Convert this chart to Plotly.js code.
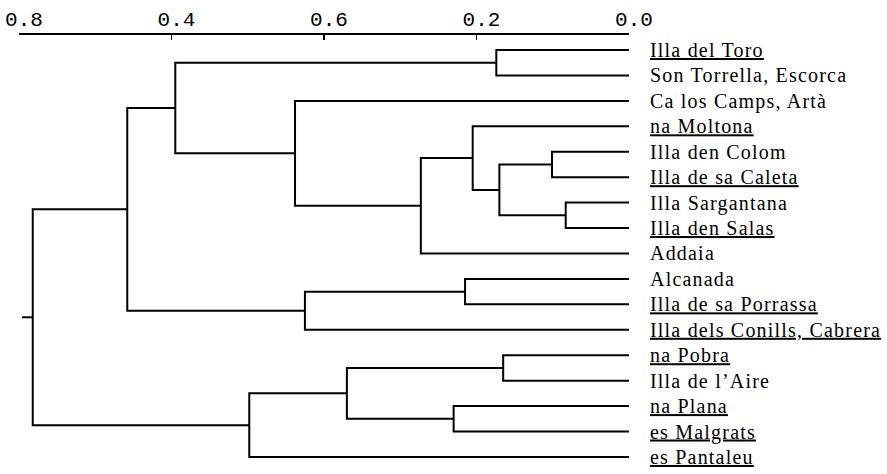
<!DOCTYPE html>
<html>
<head>
<meta charset="utf-8">
<script src="https://cdn.plot.ly/plotly-3.0.1.min.js"></script>
<style>
  html, body { margin: 0; padding: 0; background: #fff; }
  .ytick text { letter-spacing: 1.2px; }
</style>
</head>
<body>
<div id="chart" style="width:887px;height:474px;"></div>
<script>
// Leaves (top to bottom) and whether each name is underlined
const leafNames = [
  "Illa del Toro", "Son Torrella, Escorca", "Ca los Camps, Artà", "na Moltona",
  "Illa den Colom", "Illa de sa Caleta", "Illa Sargantana", "Illa den Salas",
  "Addaia", "Alcanada", "Illa de sa Porrassa", "Illa dels Conills, Cabrera",
  "na Pobra", "Illa de l\u2019Aire", "na Plana", "es Malgrats", "es Pantaleu"
];
const leafUnderlined = [1,0,0,1, 0,1,0,1, 0,0,1,1, 1,0,1,1,1];

// Linkage: ids 0..16 are leaves; each merge creates id 17, 18, ...
const mergeLeft   = [0, 4, 6, 19, 3, 21, 2, 17, 9, 25, 24, 12, 14, 28, 30, 27];
const mergeRight  = [1, 5, 7, 18, 20, 8, 22, 23, 10, 11, 26, 13, 15, 29, 16, 31];
const mergeHeight = [0.174, 0.101, 0.083, 0.170, 0.205, 0.273, 0.438, 0.595,
                     0.215, 0.425, 0.658, 0.165, 0.230, 0.370, 0.498, 0.782];
const rootStubHeight = 0.796;

// Axis ticks (as printed)
const tickVals = [0.8, 0.6, 0.4, 0.2, 0.0];
const tickText = ["0.8", "0.4", "0.6", "0.2", "0.0"];

// Build dendrogram segments
const nodeX = [], nodeY = [];
leafNames.forEach((_, i) => { nodeX.push(0); nodeY.push(i); });
const xs = [], ys = [];
for (let k = 0; k < mergeHeight.length; k++) {
  const a = mergeLeft[k], b = mergeRight[k], h = mergeHeight[k];
  xs.push(nodeX[a], h, h, nodeX[b], null);
  ys.push(nodeY[a], nodeY[a], nodeY[b], nodeY[b], null);
  nodeX.push(h);
  nodeY.push((nodeY[a] + nodeY[b]) / 2);
}
const root = nodeX.length - 1;
xs.push(nodeX[root], rootStubHeight);
ys.push(nodeY[root], nodeY[root]);

const labels = leafNames.map((n, i) => leafUnderlined[i] ? "<u>" + n + "</u>" : n);

const trace = {
  x: xs, y: ys, mode: "lines", type: "scatter",
  line: { color: "#000", width: 2 },
  hoverinfo: "skip", showlegend: false, connectgaps: false
};

const layout = {
  width: 887, height: 474,
  margin: { l: 19, r: 258, t: 35, b: 0 },
  paper_bgcolor: "#fff", plot_bgcolor: "#fff",
  showlegend: false,
  xaxis: {
    side: "top", range: [0.8, 0.0], autorange: false,
    showgrid: false, zeroline: false,
    showline: true, linecolor: "#000", linewidth: 2.5,
    ticks: "inside", ticklen: 5, tickwidth: 1.5, tickcolor: "#000",
    tickvals: tickVals, ticktext: tickText,
    tickfont: { family: "Liberation Mono, DejaVu Sans Mono, monospace", size: 21, color: "#000" },
    ticklabelshift: -5, ticklabelstandoff: -2, ticklabeloverflow: "allow",
    automargin: false, fixedrange: true
  },
  yaxis: {
    side: "right", range: [16.67, -0.59], autorange: false,
    showgrid: false, zeroline: false, showline: false, ticks: "",
    tickvals: leafNames.map((_, i) => i), ticktext: labels,
    tickfont: { family: "Liberation Serif, Times New Roman, serif", size: 20, color: "#000" },
    ticklabelstandoff: 20, ticklabeloverflow: "allow",
    automargin: false, fixedrange: true
  }
};

Plotly.newPlot("chart", [trace], layout, { staticPlot: true, displayModeBar: false });
</script>
</body>
</html>
